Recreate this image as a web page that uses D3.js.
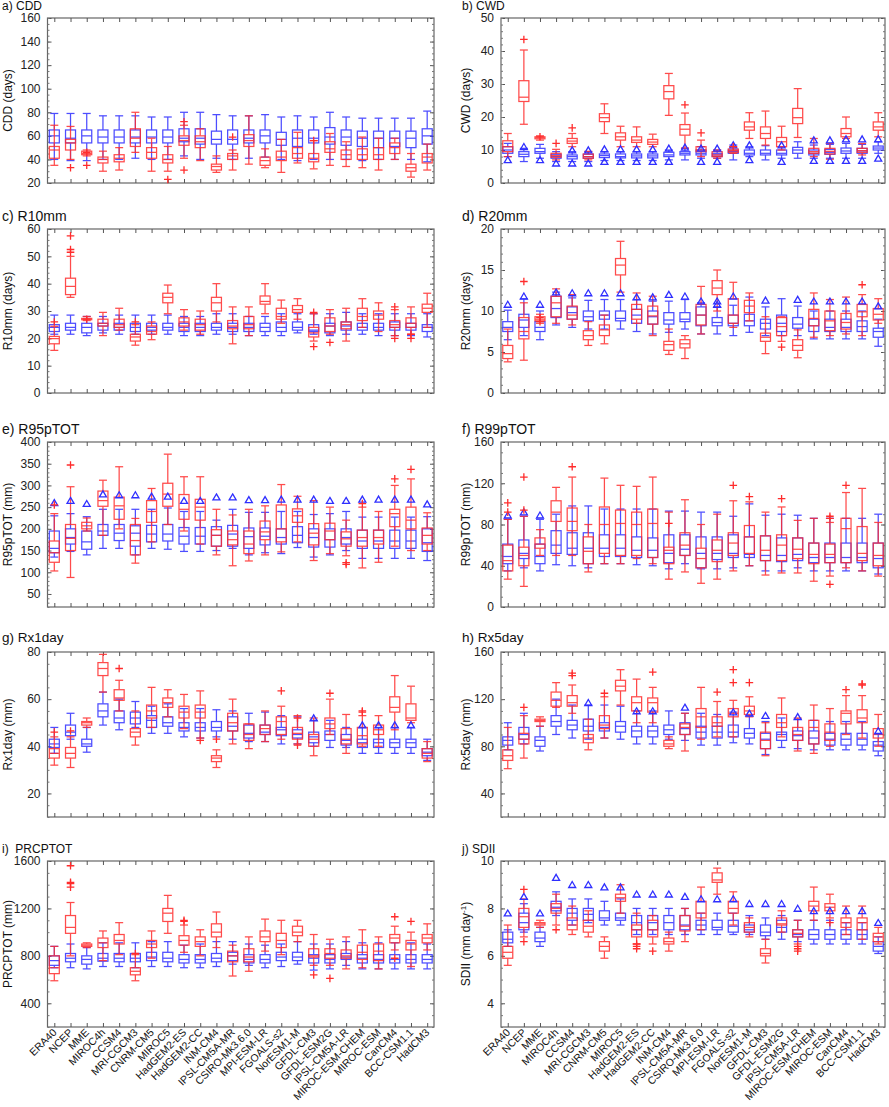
<!DOCTYPE html>
<html><head><meta charset="utf-8">
<script src="https://cdn.jsdelivr.net/npm/d3@7"></script>
<style>body{margin:0;background:#fff}svg{display:block}text{font-family:"Liberation Sans",Arial,sans-serif}</style>
</head><body><svg id="c" width="889" height="1107"></svg>
<script>
const categories = ["ERA40","NCEP","MME","MIROC4h","CCSM4","MRI-CGCM3","CNRM-CM5","MIROC5","HadGEM2-ES","HadGEM2-CC","INM-CM4","IPSL-CM5A-MR","CSIRO-Mk3.6.0","MPI-ESM-LR","FGOALS-s2","NorESM1-M","GFDL-CM3","GFDL-ESM2G","IPSL-CM5A-LR","MIROC-ESM-CHEM","MIROC-ESM","CanCM4","BCC-CSM1.1","HadCM3"];
const E = [];
// each box: [lower whisker, q1, median, q3, upper whisker]
const cddBlue = [[40,54,60,65,79],[39,54,58,65,79],[39,54,60,65,79],[40,54,59,65,77],[40,54,59,65,77],[41,54,59,65,77],[40,54,59,65,76],[40,54,59,65,76],[43,55,58,66,80],[40,53,58,66,80],[41,53,57,64,78],[40,53,57,65,77],[41,54,58,65,77],[42,54,60,65,78],[40,52,57,63,76],[39,51,58,65,77],[40,54,58,65,76],[40,53,59,67,80],[40,52,59,65,76],[39,51,58,64,75],[40,50,58,64,75],[40,51,58,64,75],[40,50,58,64,75],[38,53,60,66,81]];
const cddRed = [[35,41,48,51,69],[40,48,54,57,68],[43,44,45,47,48],[30,37,40,42,47],[31,38,41,44,50],[46,51,58,66,80],[30,41,46,50,58],[30,37,40,44,51],[41,52,56,60,69],[39,50,55,60,66],[29,31,34,36,43],[31,40,43,45,48],[36,51,56,61,77],[33,35,39,42,49],[29,39,42,47,57],[37,41,45,50,63],[32,38,41,45,56],[35,46,49,55,62],[34,40,44,48,55],[33,40,44,49,59],[31,40,44,50,58],[40,45,50,54,58],[25,30,33,36,45],[31,37,42,45,53]];
const cddBlueOut = [E,E,E,E,E,E,E,E,E,E,E,E,E,E,E,E,E,E,E,E,E,E,E,E];
const cddRedOut = [E,[33],[46,35],E,E,E,E,[23],[72,31],E,E,[59],E,E,E,E,[56],E,E,E,E,E,E,E];

const cwdBlue = [[8,9,10,11,12],[6.5,8,8.7,9.5,10.5],[7.5,9,9.5,10.5,11.7],[6.5,7.5,8,8.7,9.5],[6.5,7.3,8,8.5,9.5],[6.5,7.5,8,8.7,9.5],[6.8,7.7,8.3,8.8,9.5],[6.8,7.6,8,8.8,9.5],[6.8,7.6,8.2,8.8,9.5],[6.8,7.6,8.2,8.8,9.5],[7,8,8.5,9.3,10],[7,8.5,9,9.5,10.5],[7.5,8.5,9,10,11],[7.5,8,8.5,9,10],[7,9,9.5,10,11.5],[8,8.5,9,10,11],[7,8.5,9,10,11.3],[7.5,8.5,9,10,11],[7.5,9,10,10.8,12.5],[7.5,8.5,9,10,11.5],[7.5,8.7,9.3,10.2,11.7],[7.5,9,9.7,10.6,12],[7.5,9,9.7,10.5,11.7],[9,10,10.6,11.2,12.5]];
const cwdRed = [[8,9.5,11,12.8,15],[17.8,24.7,26,31,40.3],[13,13.4,13.7,14,14.3],[7,7.8,8.3,9,10.2],[11,12,12.7,13.5,15],[7,7.5,8,8.8,9.6],[15,18.6,19.8,21,24],[11,13,14,15.2,17.2],[11,12.3,13,14,17],[11,11.7,12.4,13.2,14.8],[20.5,25.5,27.7,29.5,33.2],[10.6,14.5,16.3,17.7,21.2],[8,9.5,10,11,13],[7.5,8,8.5,9.5,10],[9,9.3,9.8,10.3,11],[13.5,16,17,18.5,21.3],[11.5,13.5,15,17,21.8],[10,11,12.5,13.8,17.2],[13.8,18,19.8,22.6,28.6],[8,9,9.5,10.5,13.5],[7.2,8.8,9.6,10.5,12],[13.5,14,15,16.5,20],[8.5,9.3,9.8,10.5,12],[14,16,17,18.5,21.3]];
const cwdBlueOut = [[7],[11],[7],[6],[6,10],[6,10],[6.5,10.3],[6.5,10.3],[6.5,10.3],[6.5,10.3],[6.5,10.5],[10.8],[6.5,10.5],[6.5,10.5],[11.5],[7,11.5],E,[6.5,11.5],E,[6.8,13],[6.8,13],[6.8,13.3],[6.8,13.3],[7.5,13.3]];
const cwdRedOut = [E,[43.5],[14],[12],[16.7],E,E,E,E,E,E,[23.7],[15.2],E,[11],E,E,E,E,E,E,E,E,E];

const r10Blue = [[21.5,22.5,24,25,28.5],[21.5,23,24,25.5,28.5],[21,22,24,25.5,28],[22,23,24.5,25.5,28],[21.5,23,24,25.5,28.5],[21.5,22.5,24,25.5,28.5],[21.5,23,24,25.5,28.5],[21.5,23,24,25.5,28.5],[21,22.5,24,25.5,28],[21,22.5,24,25.5,28],[21.5,23,24,25.5,29],[21.5,22.5,24,25.5,29],[21,22.5,24,25.5,28],[21,22.5,24,25.5,28],[21,22.5,24,26,29],[22,23,24,26,29],[21.5,22.5,23,25,29],[21,22,24.5,25.5,29],[21.5,23,24.5,26,29.5],[21.5,23,24,25.5,29],[21,23,24,25.5,29],[21,23,24,26,29],[21,23,24,25.5,29],[20.5,22.5,24,25,29]];
const r10Red = [[15.6,18,19.9,20.7,24.4],[35,36,39,42,50],[26.5,26.8,27,27.3,28],[21,24.5,25.5,27,29.5],[23,24,25,27,31],[17.5,19,20.5,21.5,25],[19.5,21.5,22.5,24.5,26],[29,33,35,36.5,39.5],[23,24.5,26,27.5,30.5],[21.5,23,25,27,30],[26,30,33,35,40],[18,23.5,24.5,26.5,31.5],[21,23.5,25,28,31.5],[29,32.5,33.5,35.5,40],[25.5,27,28,31,34],[27,29.5,30.5,32,34.5],[19,20.5,22,24,29],[21.5,22.5,24.5,27.5,30.5],[19,23.5,25,26,31],[24,26.5,28,31,34.5],[22.5,27,28.5,30,33],[21,24,25,26.5,30.5],[21.5,24,25.5,27.5,31.5],[24,29.5,31,32.5,36.5]];
const r10BlueOut = [E,E,E,E,E,E,E,E,E,E,E,E,E,E,E,E,E,E,E,E,E,E,E,E];
const r10RedOut = [[26],[51.5,52.5,57.5],[27],E,E,[26],E,E,E,E,E,E,E,E,E,E,[17,29.5],[18.5],E,E,E,[20,31.5],[20,21.5],E];

const r20Blue = [[6.5,7.5,8,8.7,10.1],[7,8,8.9,9.6,11.5],[6.5,7.5,8,8.7,10],[8.3,9.2,10.3,11.8,12.3],[8,9,9.8,10.5,11.6],[7.8,8.8,9.3,10,11.3],[7.8,9,9.5,10,11.4],[7.8,8.8,9.1,10,11.4],[7.5,8.5,9.5,10.2,11.4],[7.2,8.4,9.3,10,11.2],[7.4,8.4,8.9,9.8,11.2],[7.8,8.7,9,9.8,11.4],[7.2,8.2,9.5,10.5,11],[7.2,8.2,8.6,9.2,10.5],[7,8.2,8.5,9.5,10.7],[7.4,8.2,8.8,9.6,11.7],[7,7.8,8.5,9,10.5],[7,7.5,8.5,9.5,11.5],[7,7.9,8.4,9.2,10.6],[6.6,7.5,8.2,9,10],[6.6,7.5,8,9,10],[6.6,7.5,8,9,10],[6.6,7.5,8.1,8.8,10],[5.7,6.8,7.5,7.9,9]];
const r20Red = [[3.8,4.2,4.8,5.8,7.8],[4,6.6,7.5,9.2,11],[8.5,8.8,9,9.3,9.6],[8.5,9.3,11,11.8,12.7],[8.3,9,9.5,10.6,12],[5.8,6.5,7,7.6,8.7],[6,7,7.7,8.3,9.5],[12.3,14.4,15.6,16.4,18.5],[8.5,9,10.2,10.8,12.2],[7,8.4,9.4,10.6,11.8],[4.7,5.2,5.9,6.3,7.8],[4.2,5.5,6,6.5,7],[7.2,8.3,9.5,10.8,13],[10,12,12.8,13.7,15],[8,8.5,9.5,11.5,13.5],[8.8,9.8,10.6,11.3,12.2],[4.8,6.3,6.8,7.3,9.3],[6.3,7,8.1,9.2,9.3],[4.3,5.2,5.8,6.5,7.7],[6.8,8.2,9.1,10.2,12.2],[7,7.6,8.8,10,11.4],[7.2,7.8,8.6,9.7,11.7],[7,9.3,9.9,10.8,12],[8.5,8.9,9.6,10.3,11.5]];
const r20BlueOut = [[10.8],[11.8],[10.8],[12.3],[12.2],[12.2],[12.2],[12.2],[11.7],[11.7],[12],[11.8],[11.2],[10.8,11.2],[11.8],E,[11.3],E,[11.4],[11.2],[11.2],[11.2],[11.2],[10.6]];
const r20RedOut = [E,[13.6],[8.7,9.2],E,E,E,E,E,E,E,E,E,E,E,E,E,E,[5.6],E,E,E,E,[13.2],E];

const r95Blue = [[135,145,155,195,230],[148,165,180,200,235],[140,153,170,195,228],[155,185,195,210,245],[155,173,190,210,245],[140,160,190,207,245],[155,170,188,208,245],[153,172,188,210,248],[148,165,183,203,240],[148,165,183,203,240],[150,160,185,205,220],[155,160,188,208,245],[140,155,182,202,238],[145,163,183,202,238],[143,165,180,200,240],[157,168,185,205,240],[135,158,180,200,233],[140,158,175,200,235],[150,165,180,200,240],[132,155,172,197,227],[132,155,172,197,227],[132,155,172,197,227],[132,155,172,197,227],[127,148,168,200,228]];
const r95Red = [[103,123,145,172,235],[88,150,178,210,297],[195,200,207,215,225],[185,252,265,287,312],[200,222,253,273,343],[121,140,173,210,224],[170,215,240,265,293],[210,252,280,305,372],[195,222,245,279,320],[165,220,250,268,320],[140,160,185,198,245],[115,163,175,195,232],[126,143,165,195,245],[140,175,193,218,253],[147,170,200,255,302],[170,215,230,246,275],[127,163,190,212,265],[143,175,195,213,250],[138,160,177,193,220],[110,160,180,197,250],[123,165,180,197,240],[160,205,235,245,300],[150,200,220,250,315],[150,165,185,202,237]];
const r95BlueOut = [[260],[265],[258],[280],[278],[278],[275],[275],[265],[265],[273],[273],[267],[267],[268],[268],[268],[265],[265],[268],[268],[268],[268],[257]];
const r95RedOut = [[255],[347],E,E,E,E,E,E,E,E,E,E,E,E,E,E,E,E,[118,122],[258],E,[315],[337],E];

const r99Blue = [[35,42,49,61,85],[38,47,52,65,88],[35,42,49,61,85],[41,52,60,74,90],[40,51,57,72,98],[38,42,57,72,98],[42,49,57,70,95],[42,49,57,70,95],[41,48,55,68,95],[40,48,55,67,95],[37,43,52,70,93],[42,50,56,70,93],[37,38,52,68,92],[37,46,52,68,92],[38,48,52,70,88],[40,48,51,68,100],[35,45,50,69,89],[35,44,50,67,90],[38,45,51,67,89],[35,43,48,62,86],[35,43,48,62,86],[35,43,48,62,86],[35,43,48,62,86],[32,38,47,62,90]];
const r99Red = [[27,35,45,60,85],[20,40,50,58,88],[50,57,61,67,75],[50,83,92,103,116],[50,74,83,96,126],[34,42,54,68,80],[42,52,80,97,125],[42,50,81,94,118],[47,50,80,92,117],[42,48,81,95,126],[27,42,55,58,92],[34,50,60,72,104],[23,38,47,57,80],[27,44,55,65,90],[35,50,62,72,103],[40,52,68,79,102],[31,45,55,69,92],[33,45,60,70,97],[33,47,56,67,84],[25,42,51,62,86],[30,43,51,61,82],[38,43,76,86,111],[35,45,52,78,115],[30,40,50,62,82]];
const r99BlueOut = [[89],[92],[89],E,E,E,E,E,E,E,E,E,E,E,E,E,E,E,E,E,E,E,E,E];
const r99RedOut = [[92,101],[94,126],E,E,[136],E,E,E,E,E,[81],E,E,E,[118],[107],E,[105],E,E,[22,86,88],[118],E,E];

const rx1Blue = [[37,39.5,41,43,48],[43,44.5,46,49,54],[37.5,40,41,43,48],[49,52.5,55,58,63],[47,50,52,55,60],[48,49.5,52,54.5,59],[45.5,48,51,53,57],[45.5,48.5,50,52.5,58],[44,46.5,48,50,56],[43.5,46.5,48,50,56],[44,46.5,48,50.5,55.5],[43,46.5,48.5,52.5,55],[42,43.5,45.5,49,54],[42,45,46,49,54.5],[41,44.5,47,48,53],[41,43.5,45,47,52.5],[40,41.5,44,46,51],[39.5,42.5,45,46.5,51],[39.5,40.5,42.5,45,48],[37,39.5,41.5,43,48],[37,39.5,41.5,43,48],[37,39.5,41.5,43,48],[37,39.5,41.5,43,48],[34,36,37.5,39,43]];
const rx1Red = [[32,35,37,39,44],[31,35,37,39.5,44],[48,49,50,50.5,52],[63,70,73,75.5,79],[55,59.5,60.5,64,68],[40.5,44,46,47.5,55],[48,52,55,57.5,65],[52.5,56.5,58.5,60.5,64],[47.5,52,54.5,57,62],[43.5,52,54.5,57.5,63.5],[31,33.5,35,36,38.5],[41,46.5,50,54,60],[39,42.5,45,49.5,49.5],[42,45,47.5,49,55],[43,45,50.5,52.5,57],[41,43,45.5,48,53],[36,40,43,45,52],[45,47.5,49.5,52,60],[37,41,43,47.5,53.5],[40,41,44.5,48,53],[40,45,47,49,53],[47,54.5,56.5,61,70],[50,51,52,58,65.5],[33.5,35,37,39,42]];
const rx1BlueOut = [E,E,E,E,E,E,E,E,E,E,E,E,E,E,E,E,[52],E,E,[49],[49],[49],[49],E];
const rx1RedOut = [[46],[46.5],E,E,[73],E,E,E,E,[42.5],[43],E,E,E,[63.5],[40.5,52],E,[62.5],E,[54.5,55],E,E,E,E];

const rx5Blue = [[77,81,85,88,100],[82,86,90,96,108],[76,80,85,88,97],[90,97,101,106,120],[87,94,98,102,115],[86,93,97,103,115],[87,93,96,100,115],[86,92,97,101,114],[82,88,93,97,110],[82,88,93,97,110],[86,90,94,98,110],[85,90,95,100,108],[81,87,92,97,108],[81,87,92,97,107],[83,88,92,98,109],[82,87,91,95,106],[73,78,86,91,101],[79,85,90,92,104],[78,85,89,93,103],[77,82,87,93,102],[77,81,86,91,101],[77,81,86,91,101],[77,81,86,91,101],[72,76,81,84,91]];
const rx5Red = [[61,68,72,77,96],[70,82,86,91,106],[97,101,102,103,105],[113,114,119,126,134],[108,114,117,123,132],[77,83,87,90,103],[87,95,98,106,122],[115,127,131,136,145],[100,110,117,122,137],[100,109,117,121,130],[78,80,82,85,88],[76,90,96,99,108],[86,96,105,112,130],[88,97,100,105,118],[88,105,108,112,119],[105,107,110,114,122],[72,78,85,92,100],[88,96,100,107,121],[76,85,90,96,104],[74,82,96,102,115],[80,85,92,99,112],[90,99,108,110,123],[87,100,104,111,123],[80,87,90,95,107]];
const rx5BlueOut = [E,E,E,E,E,[117],E,E,[110],[110],E,[113],E,E,[109],[108],[106],E,[105],E,E,E,E,[93]];
const rx5RedOut = [E,[113],E,E,[140,142],E,[125],E,E,[143],E,E,E,[126],[134,145],[134],E,E,E,E,E,[128],[132,133],E];

const prBlue = [[700,720,760,800,880],[700,750,780,820,900],[690,730,770,800,870],[710,755,780,820,910],[710,750,780,820,910],[700,750,780,820,910],[710,760,790,830,920],[710,750,780,830,920],[700,740,770,810,890],[700,740,770,810,900],[710,750,780,820,920],[730,760,800,830,920],[720,740,770,810,900],[700,740,770,810,890],[710,760,790,830,900],[730,760,790,830,920],[680,740,780,810,900],[690,740,770,810,900],[720,770,790,820,920],[690,740,780,810,910],[690,740,770,810,910],[690,740,770,810,910],[690,740,770,810,910],[690,740,770,810,900]];
const prRed = [[590,650,700,800,880],[800,990,1040,1140,1250],[870,880,890,900,910],[760,870,910,950,1010],[810,900,930,980,1080],[590,640,670,700,810],[780,870,900,930,1010],[990,1090,1160,1200,1310],[830,890,930,970,1060],[800,880,920,960,1020],[870,960,1000,1070,1170],[630,750,800,840,890],[670,750,790,860,960],[840,920,960,1010,1110],[810,870,930,990,1100],[920,970,1000,1050,1100],[720,790,800,860,980],[720,780,820,860,940],[690,780,800,850,960],[700,770,830,890,1020],[690,760,840,900,960],[850,910,950,980,1050],[710,850,900,930,1000],[850,910,950,980,1070]];
const prBlueOut = [E,E,E,E,E,E,E,E,E,E,E,E,E,E,E,E,E,E,E,E,E,E,E,E];
const prRedOut = [E,[1380,1410,1420,1560],E,E,E,[820],E,E,[1090,1100],E,E,E,E,E,E,E,[640],[610],E,E,E,[780,1130],[1090],E];

const sdBlue = [[6.4,6.55,6.7,7.0,7.1],[7,7.1,7.4,7.8,8.2],[6.4,6.6,6.75,7,7.2],[7.7,7.9,8.05,8.3,8.7],[7.3,7.5,7.8,8,8.4],[7.4,7.5,7.75,8,8.4],[7.3,7.5,7.6,7.9,8.3],[7.3,7.5,7.6,7.8,8.4],[6.9,7.1,7.4,7.7,8],[6.9,7.1,7.4,7.7,8],[6.9,7.1,7.4,7.7,8],[6.9,7.1,7.3,7.7,8],[6.9,7.1,7.3,7.5,7.8],[6.9,7.1,7.2,7.5,7.8],[6.9,7.0,7.25,7.5,7.8],[6.9,7.0,7.1,7.3,7.7],[6.7,6.85,7.0,7.3,7.6],[6.7,7.0,7.2,7.5,7.7],[6.6,6.8,6.9,7.1,7.5],[6.5,6.7,6.9,7.1,7.5],[6.5,6.7,6.9,7.1,7.5],[6.5,6.7,6.9,7.1,7.4],[6.5,6.7,6.9,7.1,7.4],[6.1,6.2,6.4,6.6,6.8]];
const sdRed = [[5.6,5.9,6.15,6.4,7.3],[6.8,7.2,7.65,8,8.4],[7.2,7.3,7.35,7.4,7.5],[7.3,7.8,8,8.2,8.6],[6.9,7.1,7.3,7.6,8.1],[6.8,7,7.25,7.5,7.9],[5.9,6.2,6.4,6.6,6.8],[7.8,8.3,8.45,8.6,9],[6.5,6.8,7.1,7.3,7.8],[6.5,6.8,7.1,7.5,7.7],[6.2,6.5,6.6,6.75,7],[6.6,7.05,7.25,7.7,8],[7.1,7.6,7.8,8.3,8.9],[8.6,9.1,9.2,9.5,9.7],[7.3,7.8,8,8.3,8.7],[6.8,7,7.2,7.4,7.6],[5.7,6,6.1,6.3,6.7],[7,7.3,7.35,7.6,7.9],[6.5,6.8,6.95,7.1,7.5],[7.5,7.9,8.1,8.3,8.9],[7.6,7.9,8.05,8.2,8.6],[6.9,7.2,7.4,7.6,8.1],[6.7,7.1,7.4,7.6,8.1],[6.5,6.6,6.8,6.95,7.2]];
const sdBlueOut = [[7.8],[8.5],[7.8],[9.3],[9],[9],[8.9],[8.9],[8.6],[8.6],[8.6],[8.5],[8.4],[8.4],[8.4],[8.2],[8.2],[8.2],[8],[7.9],[7.9],[7.9],[7.9],[7.4]];
const sdRedOut = [E,[6.6,8.8],E,[7.1],E,E,E,E,[6.3,6.4,6.5],[6.2],E,E,E,E,E,E,E,E,[6.2,6.3,6.4],E,[7.4],E,E,E];

// tick labels per panel
const cddTicks = [20,40,60,80,100,120,140,160];
const cwdTicks = [0,10,20,30,40,50];
const r10Ticks = [0,10,20,30,40,50,60];
const r20Ticks = [0,5,10,15,20];
const r95Ticks = [50,100,150,200,250,300,350,400];
const r99Ticks = [0,40,80,120,160];
const rx1Ticks = [20,40,60,80];
const rx5Ticks = [40,80,120,160];
const prTicks = [400,800,1200,1600];
const sdTicks = [4,6,8,10];

const panels = [
 {t:"a) CDD", fs:12, yl:"CDD (days)", dom:[20,160], ticks:cddTicks, minor:5, b:cddBlue, r:cddRed, bo:cddBlueOut, ro:cddRedOut, col:0, row:0},
 {t:"b) CWD", fs:12, yl:"CWD (days)", dom:[0,50], ticks:cwdTicks, minor:2, b:cwdBlue, r:cwdRed, bo:cwdBlueOut, ro:cwdRedOut, col:1, row:0},
 {t:"c) R10mm", fs:14, yl:"R10mm (days)", dom:[0,60], ticks:r10Ticks, minor:2, b:r10Blue, r:r10Red, bo:r10BlueOut, ro:r10RedOut, col:0, row:1},
 {t:"d) R20mm", fs:14, yl:"R20mm (days)", dom:[0,20], ticks:r20Ticks, minor:1, b:r20Blue, r:r20Red, bo:r20BlueOut, ro:r20RedOut, col:1, row:1},
 {t:"e) R95pTOT", fs:14, yl:"R95pTOT (mm)", dom:[20,400], ticks:r95Ticks, minor:10, b:r95Blue, r:r95Red, bo:r95BlueOut, ro:r95RedOut, col:0, row:2},
 {t:"f) R99pTOT", fs:14, yl:"R99pTOT (mm)", dom:[0,160], ticks:r99Ticks, minor:10, b:r99Blue, r:r99Red, bo:r99BlueOut, ro:r99RedOut, col:1, row:2},
 {t:"g) Rx1day", fs:13.5, yl:"Rx1day (mm)", dom:[10,80], ticks:rx1Ticks, minor:5, b:rx1Blue, r:rx1Red, bo:rx1BlueOut, ro:rx1RedOut, col:0, row:3},
 {t:"h) Rx5day", fs:13.5, yl:"Rx5day (mm)", dom:[20,160], ticks:rx5Ticks, minor:10, b:rx5Blue, r:rx5Red, bo:rx5BlueOut, ro:rx5RedOut, col:1, row:3},
 {t:"i)  PRCPTOT", fs:12, yl:"PRCPTOT (mm)", dom:[200,1600], ticks:prTicks, minor:100, b:prBlue, r:prRed, bo:prBlueOut, ro:prRedOut, col:0, row:4},
 {t:"j) SDII", fs:12, yl:"SDII", dom:[3,10], ticks:sdTicks, minor:0.5, b:sdBlue, r:sdRed, bo:sdBlueOut, ro:sdRedOut, col:1, row:4}
];

const colX = [[47.5,434],[501,885]];
const rowY = [[18,183],[229,393],[442,607],[652,817],[861,1027]];
const titleY = [10,221,434,642,853];
const BLUE = "#2f2fff", RED = "#ff2c2c";
const svg = d3.select("#c");

panels.forEach(p => {
  const [x0,x1] = colX[p.col], [y0,y1] = rowY[p.row];
  const x = d3.scalePoint().domain(categories).range([x0,x1]).padding(0.42);
  const y = d3.scaleLinear().domain(p.dom).range([y1,y0]);
  const g = svg.append("g");
  g.append("text").attr("x", p.col? 462 : 2).attr("y", titleY[p.row]).attr("font-size", p.fs).attr("fill","#111").style("white-space","pre").text(p.t);
  const yl = g.append("text").attr("transform",`translate(${p.col?470:12},${(y0+y1)/2}) rotate(-90)`).attr("text-anchor","middle").attr("font-size",12).attr("fill","#111");
  yl.text(p.yl);
  if (p.t.startsWith("j")) { yl.text("SDII (mm day"); yl.append("tspan").attr("dy",-4).attr("font-size",8).text("-1"); yl.append("tspan").attr("dy",4).text(")"); }
  g.append("rect").attr("x",x0).attr("y",y0).attr("width",x1-x0).attr("height",y1-y0).attr("fill","none").attr("stroke","#666").attr("stroke-width",1.2);
  const minorVals = d3.range(p.dom[0], p.dom[1]+1e-9, p.minor);
  const axL = d3.axisLeft(y).tickValues(p.ticks).tickSize(-4).tickPadding(7).tickFormat(d3.format("d"));
  const gl = g.append("g").attr("transform",`translate(${x0},0)`).call(axL);
  gl.select(".domain").remove();
  gl.selectAll("text").attr("font-size",12).attr("fill","#222").attr("font-family","Liberation Sans, Arial, sans-serif");
  gl.selectAll("line").attr("stroke","#555");
  g.append("g").attr("transform",`translate(${x0},0)`).call(d3.axisLeft(y).tickValues(minorVals).tickSize(-2).tickFormat(""))
    .call(s=>{s.select(".domain").remove(); s.selectAll("line").attr("stroke","#777");});
  g.append("g").attr("transform",`translate(${x1},0)`).call(d3.axisRight(y).tickValues(p.ticks).tickSize(-4).tickFormat(""))
    .call(s=>{s.select(".domain").remove(); s.selectAll("line").attr("stroke","#555");});
  g.append("g").attr("transform",`translate(${x1},0)`).call(d3.axisRight(y).tickValues(minorVals).tickSize(-2).tickFormat(""))
    .call(s=>{s.select(".domain").remove(); s.selectAll("line").attr("stroke","#777");});
  g.append("g").attr("transform",`translate(0,${y1})`).call(d3.axisBottom(x).tickSize(-4).tickFormat(""))
    .call(s=>{s.select(".domain").remove(); s.selectAll("line").attr("stroke","#555");});
  g.append("g").attr("transform",`translate(0,${y0})`).call(d3.axisTop(x).tickSize(-4).tickFormat(""))
    .call(s=>{s.select(".domain").remove(); s.selectAll("line").attr("stroke","#555");});
  if (p.row === 4) {
    g.selectAll(".xl").data(categories).enter().append("text")
      .attr("transform", d => `translate(${x(d)+3},${y1+6}) rotate(-45)`)
      .attr("text-anchor","end").attr("font-size",10.5).attr("fill","#111").text(d=>d);
  }
  const bw = 10, cw = 8;
  function drawBoxes(data, color) {
    const bg = g.append("g").attr("stroke",color).attr("fill","none").attr("stroke-width",1.25).attr("opacity",0.85);
    data.forEach((s,i) => {
      const cx = x(categories[i]);
      bg.append("line").attr("x1",cx).attr("x2",cx).attr("y1",y(s[0])).attr("y2",y(s[1]));
      bg.append("line").attr("x1",cx).attr("x2",cx).attr("y1",y(s[3])).attr("y2",y(s[4]));
      bg.append("line").attr("x1",cx-cw/2).attr("x2",cx+cw/2).attr("y1",y(s[0])).attr("y2",y(s[0]));
      bg.append("line").attr("x1",cx-cw/2).attr("x2",cx+cw/2).attr("y1",y(s[4])).attr("y2",y(s[4]));
      bg.append("rect").attr("x",cx-bw/2).attr("width",bw).attr("y",y(s[3])).attr("height",Math.max(0.5,y(s[1])-y(s[3])));
      bg.append("line").attr("x1",cx-bw/2).attr("x2",cx+bw/2).attr("y1",y(s[2])).attr("y2",y(s[2]));
    });
  }
  drawBoxes(p.b, BLUE);
  drawBoxes(p.r, RED);
  const og = g.append("g").attr("fill","none").attr("stroke-width",1.3);
  p.bo.forEach((arr,i) => arr.forEach(v => {
    og.append("path").attr("d","M0,-3.2L3.5,2.8L-3.5,2.8Z").attr("stroke",BLUE)
      .attr("transform",`translate(${x(categories[i])},${y(v)})`);
  }));
  p.ro.forEach((arr,i) => arr.forEach(v => {
    og.append("path").attr("d","M-3.8,0H3.8M0,-3.8V3.8").attr("stroke",RED)
      .attr("transform",`translate(${x(categories[i])},${y(v)})`);
  }));
});
</script></body></html>
